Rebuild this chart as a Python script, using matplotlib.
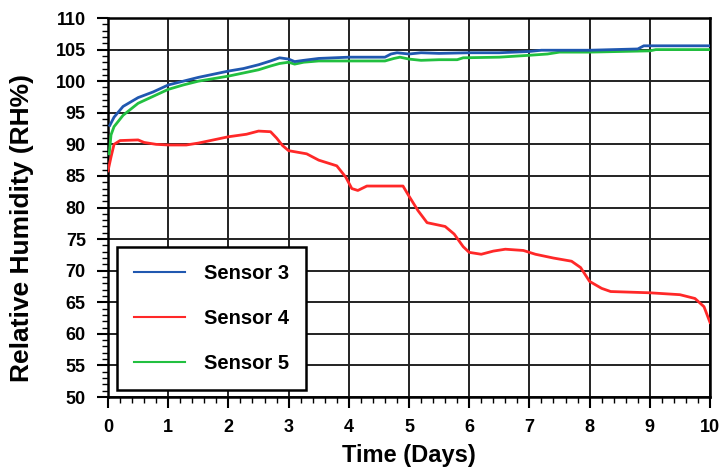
import matplotlib
matplotlib.use("Agg")
from matplotlib import pyplot as plt
from matplotlib.ticker import MultipleLocator

# Sensor 3 (blue)
t3 = [0.03, 0.1, 0.25, 0.5, 0.75, 1.0, 1.25, 1.5, 1.75, 2.0, 2.25, 2.5, 2.7, 2.85,
      3.0, 3.1, 3.25, 3.5, 4.0, 4.6, 4.7, 4.8, 5.0, 5.2, 5.5, 6.0, 6.5, 7.0, 7.2,
      8.0, 8.8, 8.9, 9.0, 10.0]
rh3 = [93.0, 94.3, 96.0, 97.4, 98.3, 99.4, 100.0, 100.6, 101.1, 101.6, 102.0, 102.6,
       103.2, 103.7, 103.5, 103.1, 103.3, 103.6, 103.8, 103.8, 104.3, 104.5, 104.3,
       104.5, 104.4, 104.5, 104.5, 104.7, 104.9, 104.9, 105.1, 105.6, 105.6, 105.6]

# Sensor 4 (red)
t4 = [0.0, 0.05, 0.1, 0.2, 0.5, 0.6, 0.8, 1.0, 1.3, 1.5, 1.7, 2.0, 2.3, 2.5, 2.7,
      2.8, 2.9, 3.0, 3.3, 3.5, 3.8, 3.95, 4.05, 4.15, 4.3, 4.9, 5.0, 5.15, 5.3, 5.6,
      5.75, 5.9, 6.0, 6.2, 6.4, 6.6, 6.9, 7.1, 7.4, 7.7, 7.85, 8.0, 8.2, 8.35, 9.0,
      9.5, 9.75, 9.9, 10.0]
rh4 = [85.8, 88.0, 90.0, 90.6, 90.7, 90.3, 90.0, 89.9, 89.9, 90.2, 90.6, 91.2, 91.6,
       92.1, 92.0, 91.0, 89.8, 89.0, 88.5, 87.5, 86.6, 84.8, 83.0, 82.7, 83.4, 83.4,
       81.8, 79.5, 77.6, 77.0, 75.8, 73.8, 72.9, 72.6, 73.1, 73.4, 73.2, 72.6, 72.0,
       71.5, 70.5, 68.3, 67.2, 66.7, 66.5, 66.2, 65.6, 64.3, 61.8]

# Sensor 5 (green)
t5 = [0.02, 0.05, 0.1, 0.25, 0.5, 0.75, 1.0, 1.25, 1.5, 1.75, 2.0, 2.25, 2.5, 2.7,
      2.85, 3.0, 3.1, 3.25, 3.5, 4.0, 4.6, 4.75, 4.85, 5.0, 5.2, 5.5, 5.8, 5.9, 6.5,
      7.0, 7.3, 7.5, 8.0, 9.0, 9.1, 10.0]
rh5 = [88.5, 91.5, 92.8, 94.6, 96.5, 97.6, 98.7, 99.4, 100.0, 100.4, 100.8, 101.3,
       101.8, 102.4, 102.8, 103.0, 102.7, 103.0, 103.2, 103.2, 103.2, 103.6, 103.8,
       103.5, 103.3, 103.4, 103.4, 103.7, 103.8, 104.1, 104.3, 104.6, 104.6, 104.8,
       105.0, 105.0]

xticks = list(range(0, 11))
yticks = list(range(50, 111, 5))

plt.rcParams['font.family'] = ['Liberation Sans', 'DejaVu Sans']
plt.rcParams['font.weight'] = 'bold'

fig = plt.figure(figsize=(7.22, 4.74), dpi=100)
ax = fig.add_axes([0.1496, 0.1624, 0.8338, 0.7996])

ax.plot(t3, rh3, color='#2058b0', lw=2, label='Sensor 3', zorder=4)
ax.plot(t4, rh4, color='#ff2828', lw=2, label='Sensor 4', zorder=3)
ax.plot(t5, rh5, color='#22c040', lw=2, label='Sensor 5', zorder=3)

ax.set_xlim(0, 10)
ax.set_ylim(50, 110)
ax.set_xticks(xticks)
ax.set_yticks(yticks)
ax.xaxis.set_minor_locator(MultipleLocator(0.2))
ax.yaxis.set_minor_locator(MultipleLocator(1))
ax.tick_params(which='major', direction='out', length=8, width=1.5, labelsize=13, pad=8)
ax.tick_params(which='minor', direction='out', length=4, width=1)
ax.grid(True, color='#222222', lw=1.4)
for sp in ax.spines.values():
    sp.set_linewidth(1.8)

ax.set_xlabel('Time (Days)', fontsize=17, fontweight='bold')
ax.xaxis.set_label_coords(0.5, -0.125)
ax.set_ylabel('Relative Humidity (RH%)', fontsize=19, fontweight='bold')
ax.yaxis.set_label_coords(-0.123, 0.446)

leg = ax.legend(loc='lower left', bbox_to_anchor=(0.015, 0.018), borderaxespad=0,
                fontsize=14.5, frameon=True, fancybox=False, framealpha=1,
                edgecolor='black', handlelength=2.5, handletextpad=0.95,
                labelspacing=1.3, borderpad=0.85)
leg.get_frame().set_linewidth(1.8)
for line in leg.get_lines():
    line.set_linewidth(1.5)

fig.savefig('out.png', dpi=100)
